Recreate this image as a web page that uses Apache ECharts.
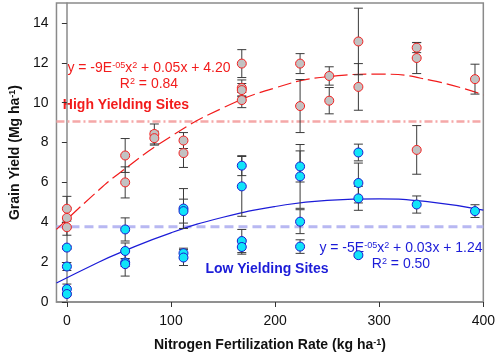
<!DOCTYPE html>
<html>
<head>
<meta charset="utf-8">
<script src="https://cdn.jsdelivr.net/npm/echarts@6/dist/echarts.min.js"></script>
<style>
  html, body { margin: 0; padding: 0; background: #fff; }
  #chart { width: 498px; height: 357px; }
</style>
</head>
<body>
<div id="chart"></div>
<script>
// high yielding sites: N rate, yield, error
const highX = [0, 0, 0, 56, 56, 84, 84, 112, 112, 168, 168, 168, 168, 224, 224, 252, 252, 280, 280, 336, 336, 336, 392]
const highY = [4.68, 4.22, 3.75, 7.35, 6.0, 8.43, 8.22, 8.1, 7.47, 11.96, 10.74, 10.63, 10.13, 11.96, 9.83, 11.34, 10.1, 13.07, 10.79, 12.76, 12.24, 7.63, 11.18]
const highErr = [0.62, 0.5, 0.4, 0.85, 0.78, 0.5, 0.35, 0.4, 0.72, 0.7, 0.4, 0.33, 0.38, 0.5, 1.33, 0.46, 0.66, 1.67, 1.17, 0.25, 0.78, 1.22, 0.75]

// low yielding sites
const lowX = [0, 0, 0, 0, 56, 56, 56, 56, 112, 112, 112, 112, 168, 168, 168, 168, 224, 224, 224, 224, 280, 280, 280, 280, 336, 392]
const lowY = [2.73, 1.78, 0.65, 0.4, 3.64, 2.56, 1.98, 1.9, 4.69, 4.56, 2.45, 2.23, 6.84, 5.8, 3.06, 2.76, 6.8, 6.3, 4.03, 2.78, 7.5, 5.97, 5.2, 2.35, 4.89, 4.56]
const lowErr = [0.08, 0.2, 0.25, 0.08, 0.58, 0.4, 0.2, 0.6, 1.0, 0.6, 0.25, 0.4, 0.5, 1.5, 0.58, 0.36, 0.78, 1.6, 0.6, 0.34, 0.42, 1.0, 0.6, 0.08, 0.43, 0.32]

// fitted curves
const trendX = [-10, 25, 50, 100, 150, 200, 250, 300, 350, 400]
const highTrend = [3.64, 5.35, 6.45, 8.31, 9.74, 10.74, 11.3, 11.43, 11.12, 10.39]
const lowTrend = [0.95, 1.86, 2.45, 3.47, 4.25, 4.79, 5.1, 5.17, 5.01, 4.61]

// site means (horizontal lines)
const meanX = [-10, 400]
const highMean = [9.05, 9.05]
const lowMean = [3.78, 3.78]

const xTicks = [0, 100, 200, 300, 400]
const yTicks = [0, 2, 4, 6, 8, 10, 12, 14]

const font = 'Liberation Sans, Arial, sans-serif'
const red = '#f21c1c'
const blue = '#1c1cd8'

const chart = echarts.init(document.getElementById('chart'))

function zip(xs, ys) {
  return xs.map((x, i) => [x, ys[i]])
}
function errData(xs, ys, es) {
  return xs.map((x, i) => [x, ys[i] - es[i], ys[i] + es[i]])
}
function renderErr(params, api) {
  const x = api.value(0)
  const top = api.coord([x, api.value(2)])
  const bot = api.coord([x, api.value(1)])
  const w = 4.5
  const style = { stroke: '#3a3a3a', lineWidth: 1 }
  return {
    type: 'group',
    children: [
      { type: 'line', shape: { x1: top[0], y1: top[1], x2: bot[0], y2: bot[1] }, style },
      { type: 'line', shape: { x1: top[0] - w, y1: top[1], x2: top[0] + w, y2: top[1] }, style },
      { type: 'line', shape: { x1: bot[0] - w, y1: bot[1], x2: bot[0] + w, y2: bot[1] }, style }
    ]
  }
}

const sup = { fontSize: 9, verticalAlign: 'top', lineHeight: 9, fontFamily: font }

const option = {
  animation: false,
  textStyle: { fontFamily: font },
  grid: {
    left: 53,
    right: 14,
    top: 3,
    bottom: 54,
    show: true,
    borderColor: '#8a8a8a',
    borderWidth: 1.5
  },
  xAxis: {
    type: 'value',
    min: -10,
    max: 400,
    name: 'Nitrogen Fertilization Rate (kg ha{s|-1})',
    nameLocation: 'middle',
    nameGap: 36,
    nameTextStyle: {
      fontSize: 14,
      fontWeight: 'bold',
      color: '#111',
      fontFamily: font,
      rich: { s: Object.assign({ fontWeight: 'bold', color: '#111' }, sup) }
    },
    axisLine: { lineStyle: { color: '#8a8a8a', width: 1.5 } },
    axisTick: { customValues: xTicks, length: 5, lineStyle: { color: '#333' } },
    axisLabel: { customValues: xTicks, fontSize: 14, color: '#111', margin: 12 },
    splitLine: { show: false }
  },
  yAxis: {
    type: 'value',
    min: 0,
    max: 15,
    name: 'Grain Yield (Mg ha{s|-1})',
    nameLocation: 'middle',
    nameGap: 30,
    nameTextStyle: {
      fontSize: 14,
      fontWeight: 'bold',
      color: '#111',
      fontFamily: font,
      rich: { s: Object.assign({ fontWeight: 'bold', color: '#111' }, sup) }
    },
    axisLine: { show: true, lineStyle: { color: '#8a8a8a', width: 1.5 } },
    axisTick: { show: true, customValues: yTicks, length: 5, lineStyle: { color: '#333' } },
    axisLabel: { customValues: yTicks, fontSize: 14, color: '#111', margin: 8 },
    splitLine: { show: false }
  },
  graphic: [
    {
      type: 'text', x: 149, y: 68,
      style: {
        text: 'y = -9E{s|-05}x{s|2} + 0.05x + 4.20',
        fill: red, font: '14px ' + font, align: 'center', verticalAlign: 'middle',
        rich: { s: Object.assign({ fill: red }, sup) }
      }
    },
    {
      type: 'text', x: 149, y: 84,
      style: {
        text: 'R{s|2} = 0.84',
        fill: red, font: '14px ' + font, align: 'center', verticalAlign: 'middle',
        rich: { s: Object.assign({ fill: red }, sup) }
      }
    },
    {
      type: 'text', x: 126, y: 105,
      style: { text: 'High Yielding Sites', fill: red, font: 'bold 14px ' + font, align: 'center', verticalAlign: 'middle' }
    },
    {
      type: 'text', x: 401, y: 248,
      style: {
        text: 'y = -5E{s|-05}x{s|2} + 0.03x + 1.24',
        fill: blue, font: '14px ' + font, align: 'center', verticalAlign: 'middle',
        rich: { s: Object.assign({ fill: blue }, sup) }
      }
    },
    {
      type: 'text', x: 401, y: 264,
      style: {
        text: 'R{s|2} = 0.50',
        fill: blue, font: '14px ' + font, align: 'center', verticalAlign: 'middle',
        rich: { s: Object.assign({ fill: blue }, sup) }
      }
    },
    {
      type: 'text', x: 267, y: 269,
      style: { text: 'Low Yielding Sites', fill: blue, font: 'bold 14px ' + font, align: 'center', verticalAlign: 'middle' }
    }
  ],
  series: [
    {
      type: 'line',
      data: zip(meanX, highMean),
      symbol: 'none',
      lineStyle: { color: '#f5a8a8', width: 2.5, type: [8, 3, 2, 3] },
      z: 1
    },
    {
      type: 'line',
      data: zip(meanX, lowMean),
      symbol: 'none',
      lineStyle: { color: '#b8b8f2', width: 3, type: [9, 5] },
      z: 1
    },
    {
      type: 'line',
      data: zip(trendX, highTrend),
      smooth: true,
      symbol: 'none',
      lineStyle: { color: red, width: 1.2, type: [14, 5] },
      z: 2
    },
    {
      type: 'line',
      data: zip(trendX, lowTrend),
      smooth: true,
      symbol: 'none',
      lineStyle: { color: blue, width: 1.2 },
      z: 2
    },
    {
      type: 'custom',
      data: errData(highX, highY, highErr),
      renderItem: renderErr,
      encode: { x: 0, y: [1, 2] },
      z: 3
    },
    {
      type: 'custom',
      data: errData(lowX, lowY, lowErr),
      renderItem: renderErr,
      encode: { x: 0, y: [1, 2] },
      z: 3
    },
    {
      type: 'scatter',
      data: zip(highX, highY),
      symbolSize: 9,
      itemStyle: { color: '#c2c2c2', borderColor: '#f22020', borderWidth: 1, opacity: 1 },
      z: 4
    },
    {
      type: 'scatter',
      data: zip(lowX, lowY),
      symbolSize: 9,
      itemStyle: { color: '#10e4f8', borderColor: '#1a1ad0', borderWidth: 1, opacity: 1 },
      z: 4
    }
  ]
}
chart.setOption(option)
</script>
</body>
</html>
